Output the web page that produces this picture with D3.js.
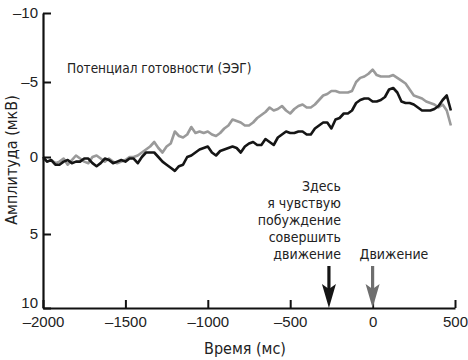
<!DOCTYPE html>
<html><head><meta charset="utf-8">
<script src="https://cdn.jsdelivr.net/npm/d3@7"></script>
<style>
html,body{margin:0;padding:0;background:#fff;}
svg{display:block;}
.num{font-family:"Liberation Sans",Arial,sans-serif;font-size:15px;fill:#222;}
.txt{font-family:"Liberation Sans Narrow","DejaVu Sans Condensed",sans-serif;font-size:16px;fill:#222;}
</style></head>
<body>
<svg id="c" width="468" height="360"></svg>
<script>
// time axis (ms) for both traces, 25 ms sampling
const times = d3.range(-2000, 476, 25);
// gray trace amplitude (µV)
const ampGray = [0.1,0.3,0.2,0.4,0.3,0.1,0.5,0.2,-0.1,0.1,
 0.3,0.4,0.0,-0.1,0.1,0.3,0.1,0.3,0.4,0.3,
 0.2,0.0,0.0,-0.1,-0.3,-0.5,-0.7,-1.0,-0.6,-0.3,
 -0.7,-0.9,-1.7,-1.4,-1.3,-1.5,-2.0,-1.6,-1.7,-1.6,
 -1.7,-1.5,-1.4,-1.6,-1.9,-2.1,-2.5,-2.4,-2.3,-2.1,
 -2.1,-2.3,-2.6,-2.8,-3.0,-3.3,-3.1,-3.2,-3.4,-3.1,
 -2.9,-3.2,-3.4,-3.5,-3.3,-3.3,-3.5,-3.8,-4.1,-4.2,
 -4.4,-4.4,-4.3,-4.3,-4.3,-4.4,-5.0,-5.3,-5.4,-5.6,
 -5.9,-5.5,-5.4,-5.4,-5.4,-5.5,-5.3,-5.1,-4.9,-4.5,
 -4.1,-4.0,-3.9,-3.7,-3.6,-3.5,-3.3,-3.5,-3.1,-2.1];
// black trace amplitude (µV)
const ampBlack = [0.0,0.3,0.2,0.5,0.5,0.3,0.2,0.4,0.3,0.3,
 0.1,0.1,0.4,0.6,0.4,0.1,0.2,0.4,0.3,0.2,
 0.3,0.1,0.1,0.4,0.0,-0.3,-0.3,-0.3,0.0,0.3,
 0.5,0.7,0.9,0.6,0.5,0.0,-0.1,-0.3,-0.5,-0.6,
 -0.7,-0.3,-0.1,-0.4,-0.5,-0.6,-0.7,-0.6,-0.3,-0.7,
 -0.9,-1.0,-0.8,-0.8,-1.2,-1.0,-0.8,-1.3,-1.5,-1.7,
 -1.6,-1.6,-1.7,-1.7,-1.5,-1.5,-1.9,-2.1,-2.3,-2.3,
 -1.9,-2.5,-2.6,-2.9,-2.9,-3.1,-3.6,-3.8,-3.9,-3.9,
 -3.7,-3.7,-3.8,-4.0,-4.5,-4.6,-4.3,-3.7,-3.6,-3.6,
 -3.5,-3.3,-3.1,-3.1,-3.1,-3.2,-3.4,-3.8,-4.1,-3.1];
const xTicks = [-2000,-1500,-1000,-500,0,500];
const yTicks = [-10,-5,0,5,10];
const titleText = "Потенциал готовности (ЭЭГ)";
const xLabel = "Время (мс)";
const yLabel = "Амплитуда (мкВ)";
const urgeTime = -265, urgeLines = ["Здесь","я чувствую","побуждение","совершить","движение"];
const moveTime = 0, moveText = "Движение";

const svg = d3.select("#c");
const x = d3.scaleLinear().domain([-2000,500]).range([43,455]);
const y = d3.scaleLinear().domain([-10,-5,0,5,10]).range([13,82,157,234,308]);
const fmt = d => d < 0 ? "–" + Math.abs(d) : String(d);

const line = d3.line().x((d,i)=>x(times[i])).y(d=>y(d));
svg.append("path").attr("d", line(ampGray)).attr("fill","none")
  .attr("stroke","#9a9a9a").attr("stroke-width",2.6).attr("stroke-linejoin","round");
svg.append("path").attr("d", line(ampBlack)).attr("fill","none")
  .attr("stroke","#151515").attr("stroke-width",2.6).attr("stroke-linejoin","round");

const ya = svg.append("g").attr("transform","translate(43,0)")
  .call(d3.axisLeft(y).tickValues(yTicks).tickSize(-8).tickSizeOuter(0).tickPadding(5).tickFormat(fmt));
const xa = svg.append("g").attr("transform","translate(0,308)")
  .call(d3.axisBottom(x).tickValues(xTicks).tickSize(-8).tickSizeOuter(0).tickPadding(8).tickFormat(fmt));
[ya,xa].forEach(g=>{
  g.selectAll("path.domain").attr("stroke","#111").attr("stroke-width",2.2);
  g.selectAll(".tick line").attr("stroke","#111").attr("stroke-width",2);
  g.selectAll(".tick text").attr("class","num").attr("fill","#222");
});
ya.selectAll(".tick text").filter(d=>d===10).attr("dy","-0.05em");

svg.append("text").attr("class","txt").attr("x",67).attr("y",73).style("font-size","13.5px").text(titleText);
svg.append("text").attr("class","txt").attr("x",245).attr("y",354).attr("text-anchor","middle").text(xLabel);
svg.append("text").attr("class","txt").attr("transform","translate(17,160) rotate(-90)")
  .attr("text-anchor","middle").text(yLabel);

const ann = svg.append("text").attr("class","txt").attr("text-anchor","end").style("font-size","14px");
urgeLines.forEach((s,i)=>ann.append("tspan").attr("x",x(urgeTime)+12).attr("y",191+i*17).text(s));
svg.append("text").attr("class","txt").style("font-size","14px").attr("x",x(moveTime)-13).attr("y",259).text(moveText);

function arrow(t, color){
  const cx = x(t), tip = 308;
  svg.append("line").attr("x1",cx).attr("x2",cx).attr("y1",266).attr("y2",290)
    .attr("stroke",color).attr("stroke-width",3.2);
  svg.append("path").attr("d",`M${cx},${tip} L${cx-7},${tip-24} L${cx},${tip-19} L${cx+7},${tip-24} Z`)
    .attr("fill",color);
}
arrow(urgeTime,"#151515");
arrow(moveTime,"#6e6e6e");
</script>
</body></html>
